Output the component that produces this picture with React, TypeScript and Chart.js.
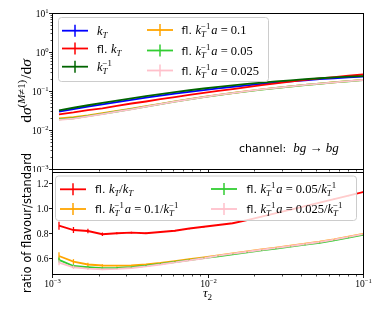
import React, { useEffect, useRef } from "react";
import { Chart, registerables } from "chart.js";

Chart.register(...registerables);

// ---------------- data ----------------
const tau = [0.001109, 0.001374, 0.001702, 0.002109, 0.002612, 0.003243, 0.004018, 0.004977, 0.006166, 0.007638, 0.009462, 0.01172, 0.01452, 0.01799, 0.02228, 0.02761, 0.0342, 0.04246, 0.0526, 0.06516, 0.08072, 0.1];

const kT = [0.0294, 0.0341, 0.0395, 0.0455, 0.0521, 0.0594, 0.0673, 0.0759, 0.0851, 0.095, 0.1054, 0.1164, 0.1277, 0.1395, 0.1516, 0.164, 0.176, 0.1888, 0.201, 0.2125, 0.2237, 0.2344];
const flKT = [0.0253, 0.0282, 0.0323, 0.036, 0.0417, 0.0478, 0.0538, 0.0615, 0.0698, 0.0796, 0.0898, 0.1008, 0.1124, 0.1262, 0.1414, 0.1576, 0.1741, 0.192, 0.21, 0.228, 0.2463, 0.2649];
const kTinv = [0.032, 0.0372, 0.0431, 0.0496, 0.057, 0.065, 0.074, 0.0835, 0.0936, 0.1045, 0.1159, 0.1275, 0.1392, 0.1514, 0.1637, 0.1763, 0.1883, 0.2011, 0.2121, 0.2231, 0.2326, 0.2414];
const flA010 = [0.0198, 0.0213, 0.0237, 0.0269, 0.0308, 0.0352, 0.0407, 0.0469, 0.054, 0.0619, 0.0704, 0.0794, 0.0889, 0.099, 0.1097, 0.1208, 0.1318, 0.144, 0.1553, 0.1676, 0.1798, 0.1919];
const flA005 = [0.0188, 0.02, 0.0228, 0.0258, 0.0298, 0.0343, 0.04, 0.0463, 0.0534, 0.0611, 0.0697, 0.0785, 0.088, 0.098, 0.1085, 0.1195, 0.1305, 0.1426, 0.1536, 0.1658, 0.1779, 0.19];
const flA0025 = [0.0181, 0.0196, 0.0223, 0.0254, 0.0294, 0.0339, 0.0396, 0.0459, 0.0531, 0.0609, 0.0695, 0.0792, 0.0887, 0.0987, 0.1094, 0.1204, 0.1314, 0.1436, 0.1548, 0.1671, 0.1793, 0.1914];

const ratioFlKT = [0.861, 0.826, 0.818, 0.792, 0.8, 0.805, 0.8, 0.81, 0.82, 0.838, 0.852, 0.866, 0.88, 0.905, 0.933, 0.961, 0.989, 1.017, 1.045, 1.073, 1.101, 1.13];
const ratioA010 = [0.618, 0.573, 0.55, 0.542, 0.541, 0.542, 0.55, 0.562, 0.577, 0.592, 0.607, 0.623, 0.639, 0.654, 0.67, 0.685, 0.7, 0.716, 0.732, 0.751, 0.773, 0.795];
const ratioA005 = [0.587, 0.538, 0.528, 0.52, 0.522, 0.528, 0.54, 0.555, 0.57, 0.585, 0.601, 0.616, 0.632, 0.647, 0.663, 0.678, 0.693, 0.709, 0.724, 0.743, 0.765, 0.787];
const ratioA0025 = [0.565, 0.528, 0.517, 0.512, 0.515, 0.522, 0.535, 0.55, 0.567, 0.583, 0.6, 0.621, 0.637, 0.652, 0.668, 0.683, 0.698, 0.714, 0.73, 0.749, 0.771, 0.793];

const errFlKT = [0.032, 0.024, 0.018, 0.014, 0.008, 0.007, 0.006, 0.006, 0.005, 0.005, 0.005, 0.005, 0.005, 0.005, 0.005, 0.005, 0.005, 0.005, 0.005, 0.005, 0.005, 0.005];
const errA010 = [0.03, 0.02, 0.014, 0.01, 0.006, 0.005, 0.004, 0.004, 0.004, 0.004, 0.004, 0.004, 0.004, 0.004, 0.004, 0.004, 0.004, 0.004, 0.004, 0.004, 0.004, 0.004];
const errA005 = [0.02, 0.014, 0.01, 0.007, 0.005, 0.004, 0.004, 0.004, 0.004, 0.004, 0.004, 0.004, 0.004, 0.004, 0.004, 0.004, 0.004, 0.004, 0.004, 0.004, 0.004, 0.004];
const errA0025 = [0.02, 0.014, 0.01, 0.007, 0.005, 0.004, 0.004, 0.004, 0.004, 0.004, 0.004, 0.004, 0.004, 0.004, 0.004, 0.004, 0.004, 0.004, 0.004, 0.004, 0.004, 0.004];

const xMajorExp = [-3, -2, -1];
const yTopMajorExp = [-3, -2, -1, 0, 1];
const yBottomTicks = [0.6, 0.8, 1.0, 1.2];

const C_BLUE = "#0000ff";
const C_RED = "#ff0000";
const C_DGREEN = "#006400";
const C_ORANGE = "#ffa500";
const C_LIME = "#32cd32";
const C_PINK = "#ffc0cb";

const BOT_TOP = 130; // top of the lower canvas, in page pixels

// ---------------- rich text ----------------
type Seg = { t: string; k?: "sans" | "it" | "rm"; p?: "sub" | "sup" | "ss"; t2?: string; k2?: "sans" | "it" | "rm"; sz?: number; gap?: number };

const SANS = '"DejaVu Sans"';
const SERIF = '"Liberation Serif"';

function fontFor(k: string | undefined, size: number) {
  if (k === "sans") return `${size}px ${SANS}`;
  if (k === "it") return `italic ${size}px ${SERIF}`;
  return `${size}px ${SERIF}`;
}

function segWidth(ctx: CanvasRenderingContext2D, s: Seg, size: number) {
  const base = s.sz ?? size;
  const sc = base * 0.7;
  if (s.p === "ss") {
    ctx.font = fontFor(s.k ?? "it", sc);
    const w1 = ctx.measureText(s.t).width;
    ctx.font = fontFor(s.k2 ?? "rm", sc);
    const w2 = ctx.measureText(s.t2 ?? "").width;
    return Math.max(w1, w2) + (s.gap ?? 0);
  }
  ctx.font = fontFor(s.k ?? "rm", s.p ? sc : base);
  return ctx.measureText(s.t).width + (s.gap ?? 0);
}

function drawRich(ctx: CanvasRenderingContext2D, segs: Seg[], x: number, y: number, size: number, align: "left" | "center" | "right") {
  let total = 0;
  for (const s of segs) total += segWidth(ctx, s, size);
  let cx = align === "left" ? x : align === "center" ? x - total / 2 : x - total;
  ctx.textAlign = "left";
  ctx.textBaseline = "alphabetic";
  for (const s of segs) {
    const base = s.sz ?? size;
    const sc = base * 0.7;
    const w = segWidth(ctx, s, size);
    if (s.p === "ss") {
      ctx.font = fontFor(s.k ?? "it", sc);
      ctx.fillText(s.t, cx, y + base * 0.27);
      ctx.font = fontFor(s.k2 ?? "rm", sc);
      ctx.fillText(s.t2 ?? "", cx, y - base * 0.4);
    } else if (s.p === "sub") {
      ctx.font = fontFor(s.k ?? "rm", sc);
      ctx.fillText(s.t, cx, y + base * 0.25);
    } else if (s.p === "sup") {
      ctx.font = fontFor(s.k ?? "rm", sc);
      ctx.fillText(s.t, cx, y - base * 0.4);
    } else {
      ctx.font = fontFor(s.k ?? "rm", base);
      ctx.fillText(s.t, cx, y);
    }
    cx += w;
  }
}

const FL: Seg = { t: "fl. ", k: "sans", sz: 11 };
const KT: Seg[] = [{ t: "k", k: "it" }, { t: "T", k: "it", p: "sub" }];
const KTI: Seg[] = [{ t: "k", k: "it" }, { t: "T", k: "it", p: "ss", t2: "−1", k2: "rm", gap: 1 }];
const aEq = (v: string): Seg[] => [{ t: "a", k: "it" }, { t: " = " + v, k: "rm" }];

const topLegendLabels: Seg[][] = [
  [...KT],
  [FL, ...KT],
  [...KTI],
  [FL, ...KTI, ...aEq("0.1")],
  [FL, ...KTI, ...aEq("0.05")],
  [FL, ...KTI, ...aEq("0.025")],
];
const bottomLegendLabels: Seg[][] = [
  [FL, ...KT, { t: "/", k: "rm" }, ...KT],
  [FL, ...KTI, ...aEq("0.1"), { t: "/", k: "rm" }, ...KTI],
  [FL, ...KTI, ...aEq("0.05"), { t: "/", k: "rm" }, ...KTI],
  [FL, ...KTI, ...aEq("0.025"), { t: "/", k: "rm" }, ...KTI],
];

// ---------------- drawing helpers ----------------
function line(ctx: CanvasRenderingContext2D, x0: number, y0: number, x1: number, y1: number) {
  ctx.beginPath();
  ctx.moveTo(x0, y0);
  ctx.lineTo(x1, y1);
  ctx.stroke();
}

function frame(ctx: CanvasRenderingContext2D, a: any) {
  ctx.strokeStyle = "#000";
  ctx.lineWidth = 1;
  ctx.strokeRect(Math.round(a.left) + 0.5, Math.round(a.top) + 0.5, Math.round(a.right) - Math.round(a.left), Math.round(a.bottom) - Math.round(a.top));
}

function logXTicks(ctx: CanvasRenderingContext2D, xs: any, a: any, labels: boolean) {
  ctx.strokeStyle = "#000";
  const yb = Math.round(a.bottom) + 0.5;
  for (const e of xMajorExp) {
    const px = Math.round(xs.getPixelForValue(Math.pow(10, e))) + 0.5;
    ctx.lineWidth = 0.9;
    line(ctx, px, yb, px, yb + 3.5);
    if (labels) {
      ctx.fillStyle = "#000";
      drawRich(ctx, [{ t: "10", k: "rm" }, { t: "−" + String(-e), k: "rm", p: "sup" }], px, a.bottom + 12.7, 9.5, "center");
    }
    if (e < -1) {
      for (let m = 2; m <= 9; m++) {
        const pm = Math.round(xs.getPixelForValue(m * Math.pow(10, e))) + 0.5;
        ctx.lineWidth = 0.7;
        line(ctx, pm, yb, pm, yb + 2);
      }
    }
  }
}

function drawLegend(ctx: CanvasRenderingContext2D, box: { x: number; y: number; w: number; h: number }, entries: { color: string; hx0: number; hx1: number; y: number; tx: number; label: Seg[] }[]) {
  ctx.save();
  const r = 3;
  const { x, y, w, h } = box;
  ctx.beginPath();
  ctx.moveTo(x + r, y);
  ctx.lineTo(x + w - r, y);
  ctx.arcTo(x + w, y, x + w, y + r, r);
  ctx.lineTo(x + w, y + h - r);
  ctx.arcTo(x + w, y + h, x + w - r, y + h, r);
  ctx.lineTo(x + r, y + h);
  ctx.arcTo(x, y + h, x, y + h - r, r);
  ctx.lineTo(x, y + r);
  ctx.arcTo(x, y, x + r, y, r);
  ctx.closePath();
  ctx.fillStyle = "rgba(255,255,255,0.8)";
  ctx.fill();
  ctx.strokeStyle = "#cccccc";
  ctx.lineWidth = 1;
  ctx.stroke();
  for (const e of entries) {
    ctx.strokeStyle = e.color;
    ctx.lineWidth = 1.8;
    line(ctx, e.hx0, e.y, e.hx1, e.y);
    const mx = (e.hx0 + e.hx1) / 2;
    ctx.lineWidth = 1.5;
    line(ctx, mx, e.y - 6, mx, e.y + 6);
    ctx.fillStyle = "#000";
    drawRich(ctx, e.label, e.tx, e.y + 4, 12.5, "left");
  }
  ctx.restore();
}

// ---------------- plugins ----------------
const topDecor = {
  id: "topDecor",
  afterDraw(chart: any) {
    const ctx: CanvasRenderingContext2D = chart.ctx;
    const a = chart.chartArea;
    const xs = chart.scales.x;
    const ys = chart.scales.y;
    ctx.save();
    frame(ctx, a);
    const xl = Math.round(a.left) + 0.5;
    for (const e of yTopMajorExp) {
      const py = Math.round(ys.getPixelForValue(Math.pow(10, e))) + 0.5;
      ctx.strokeStyle = "#000";
      ctx.lineWidth = 0.9;
      line(ctx, xl - 3.5, py, xl, py);
      ctx.fillStyle = "#000";
      drawRich(ctx, [{ t: "10", k: "rm" }, { t: (e < 0 ? "−" : "") + String(Math.abs(e)), k: "rm", p: "sup" }], a.left - 3.5, py + 3.5, 9.5, "right");
      if (e < 1) {
        for (let m = 2; m <= 9; m++) {
          const pm = Math.round(ys.getPixelForValue(m * Math.pow(10, e))) + 0.5;
          ctx.lineWidth = 0.7;
          line(ctx, xl - 2, pm, xl, pm);
        }
      }
    }
    logXTicks(ctx, xs, a, false);
    // y label
    ctx.save();
    ctx.translate(31, (a.top + a.bottom) / 2);
    ctx.rotate(-Math.PI / 2);
    ctx.fillStyle = "#000";
    drawRich(
      ctx,
      [
        { t: "d", k: "rm" },
        { t: "σ", k: "it" },
        { t: "(", k: "rm", p: "sup" },
        { t: "M", k: "it", p: "sup" },
        { t: "≠1)", k: "rm", p: "sup", gap: 1 },
        { t: "/d", k: "rm" },
        { t: "σ", k: "it" },
      ],
      0,
      0,
      15.5,
      "center"
    );
    ctx.restore();
    // channel annotation
    ctx.fillStyle = "#000";
    drawRich(ctx, [{ t: "channel:  ", k: "sans", sz: 11 }, { t: "bg", k: "it" }, { t: " → ", k: "rm" }, { t: "bg", k: "it" }], 239, 152, 13, "left");
    // legend
    drawLegend(ctx, { x: 58.5, y: 17.5, w: 210, h: 64 }, [
      { color: C_BLUE, hx0: 62, hx1: 88, y: 30.7, tx: 97, label: topLegendLabels[0] },
      { color: C_RED, hx0: 62, hx1: 88, y: 48.5, tx: 97, label: topLegendLabels[1] },
      { color: C_DGREEN, hx0: 62, hx1: 88, y: 66.7, tx: 97, label: topLegendLabels[2] },
      { color: C_ORANGE, hx0: 147, hx1: 173, y: 30, tx: 181.5, label: topLegendLabels[3] },
      { color: C_LIME, hx0: 147, hx1: 173, y: 50.5, tx: 181.5, label: topLegendLabels[4] },
      { color: C_PINK, hx0: 147, hx1: 173, y: 70.5, tx: 181.5, label: topLegendLabels[5] },
    ]);
    ctx.restore();
  },
};

const bottomErr = [
  { vals: ratioFlKT, err: errFlKT, color: C_RED },
  { vals: ratioA010, err: errA010, color: C_ORANGE },
  { vals: ratioA005, err: errA005, color: C_LIME },
  { vals: ratioA0025, err: errA0025, color: C_PINK },
];

const bottomDecor = {
  id: "bottomDecor",
  afterDatasetsDraw(chart: any) {
    const ctx: CanvasRenderingContext2D = chart.ctx;
    const a = chart.chartArea;
    const xs = chart.scales.x;
    const ys = chart.scales.y;
    ctx.save();
    ctx.beginPath();
    ctx.rect(a.left, a.top, a.right - a.left, a.bottom - a.top);
    ctx.clip();
    for (const s of bottomErr) {
      ctx.strokeStyle = s.color;
      ctx.lineWidth = 1.3;
      for (let i = 0; i < tau.length; i++) {
        const px = xs.getPixelForValue(tau[i]);
        line(ctx, px, ys.getPixelForValue(s.vals[i] - s.err[i]), px, ys.getPixelForValue(s.vals[i] + s.err[i]));
      }
    }
    ctx.restore();
  },
  afterDraw(chart: any) {
    const ctx: CanvasRenderingContext2D = chart.ctx;
    const a = chart.chartArea;
    const xs = chart.scales.x;
    const ys = chart.scales.y;
    const o = BOT_TOP;
    ctx.save();
    frame(ctx, a);
    const xl = Math.round(a.left) + 0.5;
    for (const v of yBottomTicks) {
      const py = Math.round(ys.getPixelForValue(v)) + 0.5;
      ctx.strokeStyle = "#000";
      ctx.lineWidth = 0.9;
      line(ctx, xl - 3.5, py, xl, py);
      ctx.fillStyle = "#000";
      drawRich(ctx, [{ t: v.toFixed(1), k: "rm" }], a.left - 3.5, py + 3.3, 9.5, "right");
    }
    logXTicks(ctx, xs, a, true);
    // x label
    ctx.fillStyle = "#000";
    drawRich(ctx, [{ t: "τ", k: "it" }, { t: "2", k: "rm", p: "sub" }], (a.left + a.right) / 2, a.bottom + 23, 13, "center");
    // y label
    ctx.save();
    ctx.translate(31, (a.top + a.bottom) / 2);
    ctx.rotate(-Math.PI / 2);
    drawRich(ctx, [{ t: "ratio of flavour/standard", k: "sans", sz: 11.5 }], 0, 0, 11.5, "center");
    ctx.restore();
    drawLegend(ctx, { x: 55.5, y: 176 - o, w: 301, h: 44.5 }, [
      { color: C_RED, hx0: 60, hx1: 86, y: 189.3 - o, tx: 95, label: bottomLegendLabels[0] },
      { color: C_ORANGE, hx0: 60, hx1: 86, y: 209 - o, tx: 95, label: bottomLegendLabels[1] },
      { color: C_LIME, hx0: 211, hx1: 237, y: 189 - o, tx: 246.5, label: bottomLegendLabels[2] },
      { color: C_PINK, hx0: 211, hx1: 237, y: 209 - o, tx: 246.5, label: bottomLegendLabels[3] },
    ]);
    ctx.restore();
  },
};

function ds(label: string, ys: number[], color: string, order: number) {
  return {
    label,
    data: tau.map((x, i) => ({ x, y: ys[i] })),
    borderColor: color,
    backgroundColor: color,
    borderWidth: 1.8,
    pointRadius: 0,
    tension: 0,
    fill: false,
    order,
  };
}

function baseOptions(padding: any, yScale: any) {
  return {
    animation: false,
    responsive: false,
    events: [],
    layout: { padding },
    plugins: { legend: { display: false }, tooltip: { enabled: false }, title: { display: false } },
    scales: {
      x: { type: "logarithmic", min: 1e-3, max: 1e-1, display: false },
      y: { ...yScale, display: false },
    },
  };
}

function TopPanel() {
  const ref = useRef<HTMLCanvasElement>(null);
  useEffect(() => {
    if (!ref.current) return;
    const chart = new Chart(ref.current, {
      type: "line",
      data: {
        datasets: [
          ds("kT", kT, C_BLUE, 6),
          ds("fl. kT", flKT, C_RED, 5),
          ds("kT^-1", kTinv, C_DGREEN, 4),
          ds("fl. a=0.1", flA010, C_ORANGE, 3),
          ds("fl. a=0.05", flA005, C_LIME, 2),
          ds("fl. a=0.025", flA0025, C_PINK, 1),
        ],
      },
      options: baseOptions({ left: 52, right: 11, top: 13, bottom: 3 }, { type: "logarithmic", min: 1e-3, max: 10 }) as any,
      plugins: [topDecor as any],
    });
    return () => chart.destroy();
  }, []);
  return <canvas ref={ref} width={374} height={172} style={{ position: "absolute", left: 0, top: 0, width: 374, height: 172 }} />;
}

function BottomPanel() {
  const ref = useRef<HTMLCanvasElement>(null);
  useEffect(() => {
    if (!ref.current) return;
    const chart = new Chart(ref.current, {
      type: "line",
      data: {
        datasets: [
          ds("fl. kT/kT", ratioFlKT, C_RED, 4),
          ds("a=0.1 ratio", ratioA010, C_ORANGE, 3),
          ds("a=0.05 ratio", ratioA005, C_LIME, 2),
          ds("a=0.025 ratio", ratioA0025, C_PINK, 1),
        ],
      },
      options: baseOptions({ left: 52, right: 11, top: 172 - BOT_TOP, bottom: 38 }, { type: "linear", min: 0.474, max: 1.29 }) as any,
      plugins: [bottomDecor as any],
    });
    return () => chart.destroy();
  }, []);
  return <canvas ref={ref} width={374} height={312 - BOT_TOP} style={{ position: "absolute", left: 0, top: BOT_TOP, width: 374, height: 312 - BOT_TOP }} />;
}

export default function App() {
  return (
    <div style={{ position: "absolute", left: 0, top: 0, width: 374, height: 312, background: "#fff" }}>
      <TopPanel />
      <BottomPanel />
    </div>
  );
}
